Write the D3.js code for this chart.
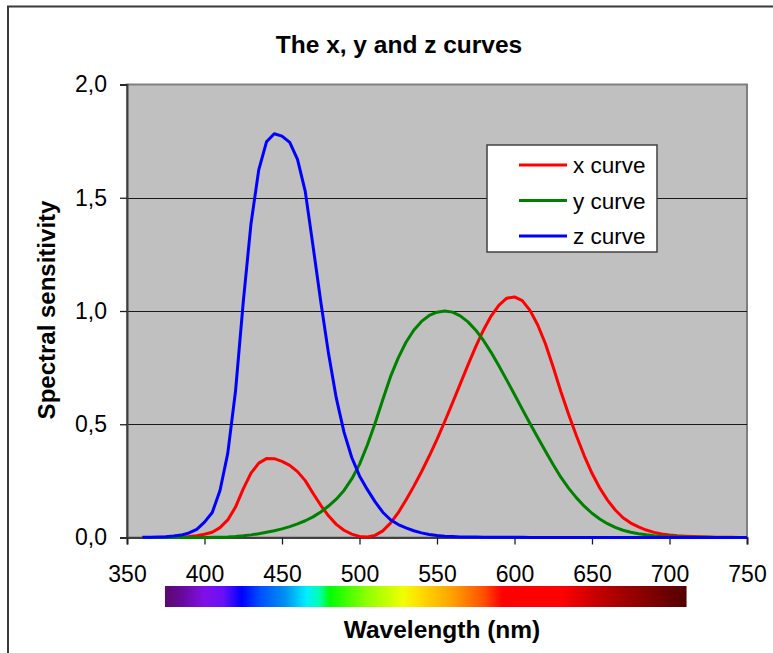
<!DOCTYPE html>
<html>
<head>
<meta charset="utf-8">
<script src="https://cdn.jsdelivr.net/npm/d3@7/dist/d3.min.js"></script>
<style>
  html, body { margin: 0; padding: 0; background: #ffffff; }
  svg { display: block; font-family: "Liberation Sans", Arial, sans-serif; }
</style>
</head>
<body>
<svg id="chart" width="773" height="653"></svg>
<script>
// CIE 1931 2° colour matching functions, 5 nm steps
const wavelengths = d3.range(360, 751, 5);
const xCurve = [0.000130,0.000232,0.000415,0.000742,0.001368,0.002236,0.004243,0.007650,0.014310,0.023190,
  0.043510,0.077630,0.134380,0.214770,0.283900,0.328500,0.348280,0.348060,0.336200,0.318700,
  0.290800,0.251100,0.195360,0.142100,0.095640,0.057950,0.032010,0.014700,0.004900,0.002400,
  0.009300,0.029100,0.063270,0.109600,0.165500,0.225750,0.290400,0.359700,0.433450,0.512050,
  0.594500,0.678400,0.762100,0.842500,0.916300,0.978600,1.026300,1.056700,1.062200,1.045600,
  1.002600,0.938400,0.854450,0.751400,0.642400,0.541900,0.447900,0.360800,0.283500,0.218700,
  0.164900,0.121200,0.087400,0.063600,0.046770,0.032900,0.022700,0.015840,0.011359,0.008111,
  0.005790,0.004109,0.002899,0.002049,0.001440,0.001000,0.000690,0.000476,0.000332];
const yCurve = [0.000004,0.000007,0.000012,0.000022,0.000039,0.000064,0.000120,0.000217,0.000396,0.000640,
  0.001210,0.002180,0.004000,0.007300,0.011600,0.016840,0.023000,0.029800,0.038000,0.048000,
  0.060000,0.073900,0.090980,0.112600,0.139020,0.169300,0.208020,0.258600,0.323000,0.407300,
  0.503000,0.608200,0.710000,0.793200,0.862000,0.914850,0.954000,0.980300,0.994950,1.000000,
  0.995000,0.978600,0.952000,0.915400,0.870000,0.816300,0.757000,0.694900,0.631000,0.566800,
  0.503000,0.441200,0.381000,0.321000,0.265000,0.217000,0.175000,0.138200,0.107000,0.081600,
  0.061000,0.044580,0.032000,0.023200,0.017000,0.011920,0.008210,0.005723,0.004102,0.002929,
  0.002091,0.001484,0.001047,0.000740,0.000520,0.000361,0.000249,0.000172,0.000120];
const zCurve = [0.000606,0.001086,0.001946,0.003486,0.006450,0.010550,0.020050,0.036210,0.067850,0.110200,
  0.207400,0.371300,0.645600,1.039050,1.385600,1.622960,1.747060,1.782600,1.772110,1.744100,
  1.669200,1.528100,1.287640,1.041900,0.812950,0.616200,0.465180,0.353300,0.272000,0.212300,
  0.158200,0.111700,0.078250,0.057250,0.042160,0.029840,0.020300,0.013400,0.008750,0.005750,
  0.003900,0.002750,0.002100,0.001800,0.001650,0.001400,0.001100,0.001000,0.000800,0.000600,
  0.000340,0.000240,0.000190,0.000100,0.000050,0.000030,0.000020,0.000010,0,0,
  0,0,0,0,0,0,0,0,0,0,
  0,0,0,0,0,0,0,0,0];
const seriesNames = ["x curve", "y curve", "z curve"];
const seriesColors = ["#ff0000", "#008000", "#0000ff"];
const xTicks = [350, 400, 450, 500, 550, 600, 650, 700, 750];
const yTicks = [0, 0.5, 1.0, 1.5, 2.0];
// spectrum strip: wavelength range and colour stops (wavelength, colour)
const spectrumRange = [374.5, 711];
const spectrumStops = [
  [374.5, "#5a0a6e"], [385, "#66089a"], [400, "#8010e8"], [412, "#6a10f8"],
  [424, "#0000ff"], [436, "#0050ff"], [452, "#0090f0"], [466, "#00f0ff"],
  [474, "#00ffb0"], [481, "#00ff00"], [505, "#90ff00"], [528, "#f0ff00"],
  [538, "#ffe000"], [560, "#ffa000"], [580, "#ff5000"], [592, "#ff0000"],
  [630, "#ff0000"], [655, "#c00000"], [680, "#900000"], [711, "#520000"]
];

const svg = d3.select("#chart");
const m = { left: 127, right: 747, top: 84.5, bottom: 537.5 };
const x = d3.scaleLinear().domain([350, 750]).range([m.left, m.right]);
const y = d3.scaleLinear().domain([0, 2]).range([m.bottom, m.top]);

// outer chart frame
svg.append("rect").attr("x", 8).attr("y", 6.5).attr("width", 820).attr("height", 700)
  .attr("fill", "#ffffff").attr("stroke", "#3a3a3a").attr("stroke-width", 2);

// plot area
svg.append("rect").attr("x", m.left).attr("y", m.top)
  .attr("width", m.right - m.left).attr("height", m.bottom - m.top)
  .attr("fill", "#c0c0c0").attr("stroke", "#808080").attr("stroke-width", 2);

// gridlines
svg.append("g").selectAll("line").data(yTicks.filter(d => d > 0 && d < 2)).join("line")
  .attr("x1", m.left).attr("x2", m.right)
  .attr("y1", d => Math.round(y(d)) + 0.5).attr("y2", d => Math.round(y(d)) + 0.5)
  .attr("stroke", "#1a1a1a").attr("stroke-width", 1.2);

// axes
const yAxis = d3.axisLeft(y).tickValues(yTicks).tickSize(7).tickPadding(13)
  .tickFormat(d => d3.format(".1f")(d).replace(".", ","));
const gy = svg.append("g").attr("transform", `translate(${m.left},0)`).call(yAxis);
gy.select(".domain").attr("stroke", "#404040").attr("stroke-width", 2);
gy.selectAll(".tick line").attr("stroke", "#202020").attr("stroke-width", 1.3);
gy.selectAll("text").attr("font-size", 23).attr("fill", "#000")
  .attr("font-family", "Liberation Sans, Arial, sans-serif");

const xAxis = d3.axisBottom(x).tickValues(xTicks).tickSize(7).tickPadding(21);
const gx = svg.append("g").attr("transform", `translate(0,${m.bottom})`).call(xAxis);
gx.select(".domain").attr("stroke", "#404040").attr("stroke-width", 2);
gx.selectAll(".tick line").attr("stroke", "#202020").attr("stroke-width", 1.3);
gx.selectAll("text").attr("font-size", 23).attr("fill", "#000")
  .attr("font-family", "Liberation Sans, Arial, sans-serif");

// curves
const seriesData = [xCurve, yCurve, zCurve];
const line = d3.line().x((d, i) => x(wavelengths[i])).y(d => y(d));
svg.append("g").selectAll("path").data(seriesData).join("path")
  .attr("d", d => line(d))
  .attr("fill", "none")
  .attr("stroke", (d, i) => seriesColors[i])
  .attr("stroke-width", 3)
  .attr("stroke-linejoin", "round");

// spectrum strip
const defs = svg.append("defs");
const grad = defs.append("linearGradient").attr("id", "spec")
  .attr("x1", "0%").attr("x2", "100%").attr("y1", "0%").attr("y2", "0%");
const span = spectrumRange[1] - spectrumRange[0];
grad.selectAll("stop").data(spectrumStops).join("stop")
  .attr("offset", d => ((d[0] - spectrumRange[0]) / span * 100) + "%")
  .attr("stop-color", d => d[1]);
svg.append("rect").attr("x", x(spectrumRange[0])).attr("y", 586)
  .attr("width", x(spectrumRange[1]) - x(spectrumRange[0])).attr("height", 21)
  .attr("fill", "url(#spec)");

// titles
svg.append("text").attr("x", 399).attr("y", 53).attr("text-anchor", "middle")
  .attr("font-size", 24.5).attr("font-weight", "bold").text("The x, y and z curves");
svg.append("text").attr("x", 442).attr("y", 638).attr("text-anchor", "middle")
  .attr("font-size", 24.5).attr("font-weight", "bold").text("Wavelength (nm)");
svg.append("text").attr("transform", "translate(55,310) rotate(-90)").attr("text-anchor", "middle")
  .attr("font-size", 24).attr("font-weight", "bold").text("Spectral sensitivity");

// legend
const lg = svg.append("g").attr("transform", "translate(487,145)");
lg.append("rect").attr("width", 170).attr("height", 107)
  .attr("fill", "#ffffff").attr("stroke", "#404040").attr("stroke-width", 1.5);
const items = lg.selectAll("g.item").data(seriesNames).join("g")
  .attr("transform", (d, i) => `translate(0,${20 + i * 35.5})`);
items.append("line").attr("x1", 32).attr("x2", 80).attr("y1", 0).attr("y2", 0)
  .attr("stroke", (d, i) => seriesColors[i]).attr("stroke-width", 3);
items.append("text").attr("x", 86).attr("y", 8).attr("font-size", 22.5).text(d => d);
</script>
</body>
</html>
